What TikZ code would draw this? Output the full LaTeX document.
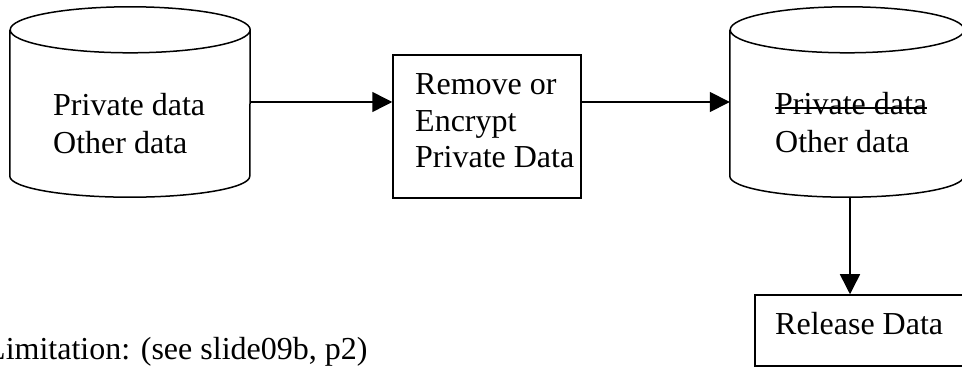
\documentclass[tikz,border=0pt]{standalone}
\usepackage{fontspec}
\setmainfont{Liberation Serif}
\usetikzlibrary{arrows.meta}

% Outline of a data store: a vertical cylinder filling the node #1,
% with horizontal radius #2
\newcommand\drawdatastore[2]{%
  \draw[outline] ([yshift=-23pt]#1.north west) -- ([yshift=21pt]#1.south west)
    arc[start angle=180, end angle=360, x radius=#2, y radius=21pt]
    -- ([yshift=-23pt]#1.north east)
    arc[start angle=0, end angle=180, x radius=#2, y radius=23pt]
    arc[start angle=180, end angle=360, x radius=#2, y radius=23pt];}

\begin{document}
\begin{tikzpicture}[x=1pt, y=1pt,
  outline/.style={line width=1.5pt, line join=round},
  storebody/.style={inner sep=0pt, minimum height=190pt},
  stepbox/.style={draw, line width=1.5pt, inner sep=0pt},
  label/.style={inner sep=0pt, anchor=base west, font=\fontsize{32pt}{38pt}\selectfont},
  flow/.style={line width=1.5pt, -{Triangle[length=20pt, width=20pt]}},
  strike/.style={line width=1.3pt}]
  \useasboundingbox (0,0) rectangle (962,367);
  \clip (0,0) rectangle (962,367);

  % source store
  \node[storebody, minimum width=240pt] (src) at (130,265) {};
  \drawdatastore{src}{120pt}
  \node[label] (srcA) at (53,251) {Private data};
  \node[label] (srcB) at (53,213) {Other data};

  % processing step
  \node[stepbox, minimum width=188pt, minimum height=143pt] (proc) at (487,240.5) {};
  \node[label] (procA) at (415,272) {Remove or};
  \node[label] (procB) at (415,235) {Encrypt};
  \node[label] (procC) at (415,199) {Private Data};

  % cleaned store
  \node[storebody, minimum width=234pt] (dst) at (847,265) {};
  \drawdatastore{dst}{117pt}
  \node[label] (dstA) at (775,252) {Private data};
  \node[label] (dstB) at (775,214) {Other data};
  \draw[strike] ([yshift=7pt]dstA.base west) -- ([yshift=7pt]dstA.base east);

  % release step
  \node[stepbox, minimum width=220pt, minimum height=71pt] (rel) at (865,36.5) {};
  \node[label] (relA) at (775,32) {Release Data};

  % note
  \node[label] (note) at (-14,7) {Limitation: (see slide09b, p2)};

  % connectors
  \draw[flow] (src.east) -- (src.east -| proc.west);
  \draw[flow] (proc.east |- dst.west) -- (dst.west);
  \draw[flow] ([xshift=3pt]dst.south) -- ([xshift=3pt]dst.south |- rel.north);
\end{tikzpicture}
\end{document}
